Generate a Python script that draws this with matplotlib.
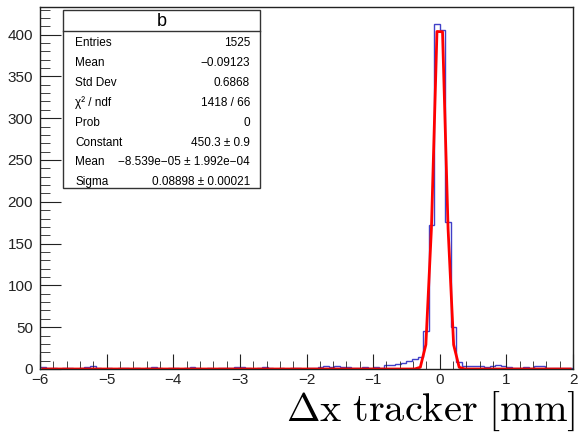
import numpy as np
import matplotlib
matplotlib.use("Agg")
import matplotlib.pyplot as plt
from matplotlib.ticker import MultipleLocator

plt.rcParams['font.family'] = ['Liberation Sans', 'DejaVu Sans']
plt.rcParams['mathtext.fontset'] = 'cm'

# histogram "b": 96 bins from -6 to 2 mm
x_lo, x_hi, n_bins = -6.0, 2.0, 96
counts = [
    2, 1, 1, 0, 1, 1, 0, 1, 2, 3, 1, 0,
    1, 0, 1, 1, 0, 1, 0, 1, 2, 1, 0, 1,
    1, 0, 1, 2, 1, 0, 1, 0, 1, 1, 1, 2,
    2, 1, 0, 1, 2, 1, 0, 1, 0, 1, 1, 0,
    1, 1, 2, 3, 2, 3, 2, 2, 1, 1, 2, 1,
    2, 1, 5, 5, 6, 7, 9, 12, 14, 45, 172, 413,
    406, 176, 50, 8, 4, 4, 3, 3, 2, 3, 5, 4,
    2, 1, 1, 2, 1, 3, 3, 1, 1, 1, 1, 1,
]

# fit results (gaus)
fit_const = 450.3
fit_mean = -8.539e-05
fit_sigma = 0.08898

stat_names = ["Entries", "Mean", "Std Dev", "\u03c7\u00b2 / ndf", "Prob",
              "Constant", "Mean", "Sigma"]
stat_values = ["1525", "\u22120.09123", "0.6868", "1418 / 66", "0",
               "450.3 \u00b1 0.9", "\u22128.539e\u221205 \u00b1 1.992e\u221204",
               "0.08898 \u00b1 0.00021"]

edges = np.linspace(x_lo, x_hi, n_bins + 1)
centers = 0.5 * (edges[:-1] + edges[1:])
fit_curve = fit_const * np.exp(-0.5 * ((centers - fit_mean) / fit_sigma) ** 2)

fig = plt.figure(figsize=(5.81, 4.32), dpi=100)
ax = fig.add_axes([40 / 581, 63 / 432, 533 / 581, 362 / 432])

ax.stairs(counts, edges, color="#4040c8", lw=1.0)
ax.plot(centers, fit_curve, color="#ff0000", lw=2.0)

ax.set_xlim(x_lo, x_hi)
ax.set_ylim(0, 433)

ax.xaxis.set_major_locator(MultipleLocator(1))
ax.xaxis.set_minor_locator(MultipleLocator(0.2))
ax.yaxis.set_major_locator(MultipleLocator(50))
ax.yaxis.set_minor_locator(MultipleLocator(10))
ax.tick_params(which="both", direction="in", top=False, right=False,
               labelsize=11, colors="#222222")
ax.tick_params(axis="x", which="major", length=11, pad=3)
ax.tick_params(axis="x", which="minor", length=5.5)
ax.tick_params(axis="y", which="major", length=15, pad=5)
ax.tick_params(axis="y", which="minor", length=7.5)
for s in ax.spines.values():
    s.set_color("#222222")
    s.set_linewidth(1.0)

fig.text(575 / 581, 1 - 421 / 432, r"$\Delta\mathrm{x\ tracker\ [mm]}$",
         ha="right", va="baseline", fontsize=29)

# stats box
bx0, bx1, by0, by1 = 63, 260, 10, 188
sep = 31
box = plt.Rectangle((bx0 / 581, 1 - by1 / 432), (bx1 - bx0) / 581,
                    (by1 - by0) / 432, transform=fig.transFigure,
                    facecolor="white", edgecolor="#333333", lw=1.0, zorder=5)
fig.add_artist(box)
fig.add_artist(plt.Line2D([bx0 / 581, bx1 / 581],
                          [1 - sep / 432, 1 - sep / 432],
                          transform=fig.transFigure, color="#333333",
                          lw=1.0, zorder=6))
fig.text((bx0 + bx1) / 2 / 581, 1 - 22 / 432, "b", ha="center", va="center",
         fontsize=13, zorder=7)
for i, (n, v) in enumerate(zip(stat_names, stat_values)):
    yy = 1 - (43.5 + 19.8 * i) / 432
    fig.text(75 / 581, yy, n, ha="left", va="center", fontsize=8.5, zorder=7)
    fig.text(250 / 581, yy, v, ha="right", va="center", fontsize=8.5, zorder=7)

fig.savefig("out.png", dpi=100)
